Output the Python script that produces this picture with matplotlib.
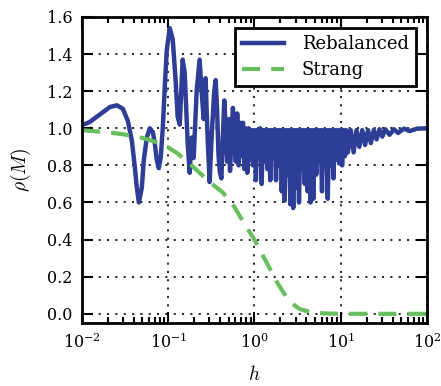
import numpy as np
import matplotlib
matplotlib.use("Agg")
import matplotlib.pyplot as plt
from matplotlib.ticker import FormatStrFormatter

# step size h and spectral radius of the rebalanced scheme
h_reb = [0.0100, 0.01112, 0.01237, 0.01413, 0.01615, 0.01845, 0.0211, 0.0254, 0.0298, 0.0340,
         0.0378, 0.0410, 0.0432, 0.0456, 0.0494, 0.0521, 0.0564, 0.0611, 0.0662, 0.0698,
         0.0736, 0.0777, 0.0819, 0.0864, 0.0911, 0.0961, 0.104, 0.1127, 0.1221, 0.1288,
         0.136, 0.1432, 0.147, 0.1551, 0.159, 0.1681, 0.1773, 0.187, 0.1972, 0.2136,
         0.231, 0.2440, 0.2573, 0.271, 0.286, 0.302, 0.3184,
         0.3415, 0.3548, 0.3687, 0.3831, 0.3981, 0.4137, 0.4299, 0.4467, 0.4642, 0.4823,
         0.5012, 0.5208, 0.5412, 0.5623, 0.5843, 0.6072, 0.6310, 0.6556, 0.6813, 0.7079,
         0.7356, 0.7644, 0.7943, 0.8254, 0.8577, 0.8913, 0.9261, 0.9624,
         1.000, 1.039, 1.080, 1.122, 1.166, 1.212, 1.259, 1.308, 1.359, 1.413,
         1.468, 1.525, 1.585, 1.647, 1.711, 1.778, 1.848, 1.920, 1.995, 2.073,
         2.154, 2.239, 2.326, 2.417, 2.512, 2.610, 2.712, 2.818, 2.929, 3.043,
         3.162, 3.286, 3.415, 3.548, 3.687, 3.831, 3.981, 4.137, 4.299, 4.467,
         4.642, 4.823, 5.012, 5.208, 5.412, 5.623, 5.843, 6.072, 6.310, 6.556,
         6.813, 7.079, 7.356, 7.644, 7.943, 8.254, 8.577, 8.913, 9.261, 9.624,
         10.00, 10.39, 10.80, 11.22, 11.66, 12.12, 13.08, 14.13, 15.25, 16.47,
         17.78, 19.20, 20.73, 22.39, 24.17, 26.10, 28.18, 30.43, 32.86, 36.87,
         41.37, 46.42, 54.12, 63.10, 76.44, 100.0]
rho_reb = [1.02, 1.025, 1.035, 1.055, 1.075, 1.095, 1.115, 1.124, 1.105, 1.04,
           0.935, 0.79, 0.68, 0.60, 0.68, 0.83, 0.95, 1.00, 0.98, 0.92,
           0.83, 0.785, 0.845, 1.00, 1.22, 1.42, 1.54, 1.48, 1.25, 1.06,
           1.02, 1.25, 1.37, 1.30, 1.18, 0.92, 0.76, 0.95, 0.84, 1.20,
           1.37, 1.20, 1.05, 1.27, 0.95, 0.71, 0.95,
           1.20, 1.26, 1.10, 0.85, 0.76, 0.73, 0.95, 1.15, 1.00, 0.82,
           1.05, 0.77, 0.95, 1.11, 1.00, 0.82, 1.08, 0.80, 1.03, 0.85,
           1.03, 0.78, 1.00, 0.76, 1.00, 0.83, 0.99, 0.80,
           0.99, 0.72, 0.99, 0.86, 1.00, 0.70, 0.99, 0.82, 0.99, 0.78,
           0.99, 0.72, 0.99, 0.88, 0.99, 0.72, 0.99, 0.80, 0.99, 0.66,
           0.99, 0.61, 0.99, 0.75, 0.99, 0.59, 0.99, 0.57, 0.99, 0.68,
           0.99, 0.60, 0.99, 0.78, 0.99, 0.70, 0.99, 0.66, 0.99, 0.60,
           0.99, 0.62, 0.99, 0.75, 0.99, 0.82, 0.99, 0.66, 0.99, 0.80,
           0.99, 0.62, 0.99, 0.80, 0.99, 0.73, 0.99, 0.83, 0.99, 0.81,
           0.99, 0.80, 0.99, 0.85, 0.99, 0.87, 0.99, 0.87, 0.99, 0.90,
           0.99, 0.91, 0.99, 0.92, 0.99, 0.94, 0.995, 0.955, 0.995, 0.965,
           0.995, 0.975, 0.998, 0.985, 0.998, 1.00]

# Strang splitting
h_str = [0.01, 0.02, 0.03, 0.05, 0.07, 0.1, 0.13, 0.177, 0.231, 0.302, 0.427, 0.587,
         0.766, 1.0, 1.2, 1.5, 1.8, 2.2, 2.75, 3.3, 4.56, 6.5, 10.0, 100.0]
rho_str = [0.99, 0.978, 0.968, 0.948, 0.928, 0.897, 0.862, 0.81, 0.76, 0.71, 0.655, 0.575,
           0.485, 0.40, 0.33, 0.245, 0.175, 0.11, 0.055, 0.027, 0.008, 0.002, 0.0, 0.0]

plt.rcParams['font.family'] = 'DejaVu Serif'
plt.rcParams['mathtext.fontset'] = 'cm'
plt.rcParams['axes.unicode_minus'] = False
plt.rcParams['lines.scale_dashes'] = False

fig, ax = plt.subplots(figsize=(4.41, 3.86), dpi=100)
fig.subplots_adjust(left=0.186, right=0.968, top=0.956, bottom=0.163)

ax.plot(h_reb, rho_reb, color='#2e3d96', lw=3.2, solid_joinstyle='round', label='Rebalanced')
ax.plot(h_str, rho_str, color='#68bf5d', lw=3, dashes=(13, 8), label='Strang')

ax.set_xscale('log')
ax.set_xlim(1e-2, 1e2)
ax.set_ylim(-0.05, 1.6)
ax.set_yticks(np.arange(0, 1.61, 0.2))
ax.yaxis.set_major_formatter(FormatStrFormatter('%.1f'))

ax.grid(True, which='major', color='black', lw=1.2, linestyle=(0, (1.5, 4.5)))
ax.tick_params(which='both', direction='in', top=True, right=True, width=1.5)
ax.tick_params(which='major', length=8, pad=7)
ax.tick_params(which='minor', length=4)
ax.tick_params(axis='y', labelsize=11.5)
ax.tick_params(axis='x', labelsize=11.5)
for sp in ax.spines.values():
    sp.set_linewidth(2)

ax.set_xlabel(r'$h$', fontsize=14, labelpad=9)
ax.set_ylabel(r'$\rho(M)$', fontsize=14, labelpad=10)

leg = ax.legend(loc='upper right', fontsize=13, fancybox=False, framealpha=1,
                handlelength=2.3, handletextpad=1.0, labelspacing=0.45,
                borderaxespad=0.6)
leg.get_frame().set_edgecolor('black')
leg.get_frame().set_linewidth(2)

fig.savefig('out.png', dpi=100)
